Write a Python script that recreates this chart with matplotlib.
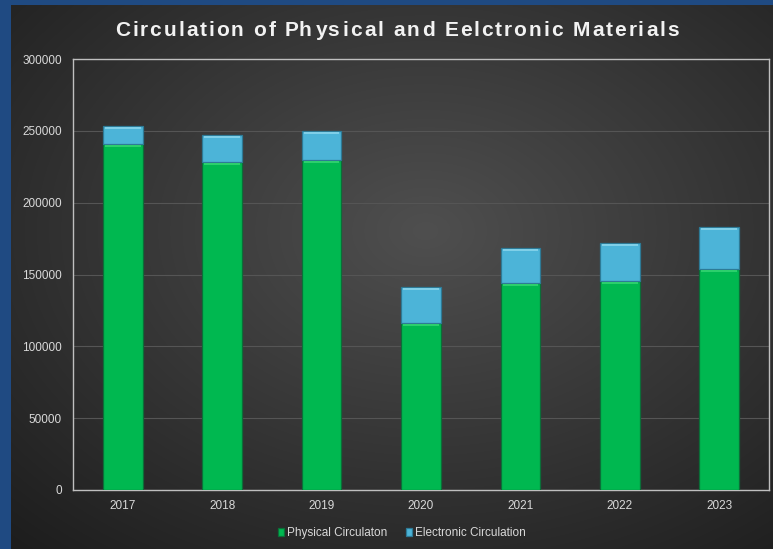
import numpy as np
import matplotlib
matplotlib.use("Agg")
import matplotlib.pyplot as plt
from matplotlib.textpath import TextToPath
from matplotlib.font_manager import FontProperties

years = ["2017", "2018", "2019", "2020", "2021", "2022", "2023"]
physical = [241000, 228500, 229700, 116200, 144200, 145600, 153800]
electronic = [12300, 18800, 20300, 25200, 24200, 26300, 29200]
yticks = [0, 50000, 100000, 150000, 200000, 250000, 300000]
title = 'Circulation of Physical and Eelctronic Materials'

plt.rcParams['font.family'] = ['Liberation Sans', 'DejaVu Sans']

W, H = 773, 549
fig = plt.figure(figsize=(W / 100, H / 100), dpi=100)
fig.patch.set_facecolor('#2b2b2b')

# background radial gradient
bg = fig.add_axes([0, 0, 1, 1], zorder=-10)
yy, xx = np.mgrid[0:H, 0:W]
cx, cy = W * 0.55, H * 0.42
r = np.sqrt(((xx - cx) / W) ** 2 + ((yy - cy) / H) ** 2)
v = 0.31 - 0.25 * r
img = np.dstack([v, v, v])
img = np.clip(img, 0, 1)
img[:, :11] = np.array([0x1f, 0x4a, 0x82]) / 255
img[:5, :] = np.array([0x1f, 0x4a, 0x82]) / 255
bg.imshow(img, aspect='auto', extent=[0, W, H, 0])
bg.set_axis_off()

ax = fig.add_axes([73 / W, 1 - 490 / H, 696 / W, 431 / H])
ax.set_facecolor('none')
x = np.arange(len(years))
bw = 0.4
phys = np.array(physical)
elec = np.array(electronic)
ax.bar(x, phys, bw, color='#00b850', edgecolor='#0b6e38', linewidth=0.9,
       label='Physical Circulaton', zorder=3)
ax.bar(x, elec, bw, bottom=phys, color='#4cb4d8', edgecolor='#2d7a96',
       linewidth=0.9, label='Electronic Circulation', zorder=3)
# bevel highlights along the top of each segment
hl = 1600
ax.bar(x, np.full(len(x), hl), bw * 0.9, bottom=phys - hl * 1.4, color='#2ccf6c',
       linewidth=0, zorder=4)
ax.bar(x, np.full(len(x), hl), bw * 0.9, bottom=phys + elec - hl * 1.4, color='#7fcfe8',
       linewidth=0, zorder=4)

ax.set_xlim(-0.5, len(years) - 0.5)
ax.set_ylim(0, 300000)
ax.set_yticks(yticks)
ax.set_yticklabels([str(t) for t in yticks])
ax.set_xticks(x)
ax.set_xticklabels(years)
ax.tick_params(axis='both', length=0, colors='#d9d9d9', labelsize=8.5)
ax.tick_params(axis='y', pad=8)
ax.tick_params(axis='x', pad=7)
ax.grid(axis='y', color='#555555', linewidth=0.8, zorder=0)
for s in ax.spines.values():
    s.set_color('#bfbfbf')
    s.set_linewidth(1.0)

# title with extra letter spacing (measured with float precision)
fs = 15
prop = FontProperties(family='Liberation Sans', weight='bold', size=fs)
t2p = TextToPath()
def width_of(s):
    w_dot = t2p.get_text_width_height_descent('.', prop, ismath=False)[0]
    w = t2p.get_text_width_height_descent(s + '.', prop, ismath=False)[0]
    return (w - w_dot) * 100 / 72.0
track = 2.0
offsets = [width_of(title[:i]) for i in range(len(title))]
total = width_of(title) + track * (len(title) - 1)
x0 = 397 - total / 2
for i, ch in enumerate(title):
    if ch == ' ':
        continue
    px = x0 + offsets[i] + track * i
    fig.text(px / W, 1 - 30 / H, ch, ha='left', va='center', fontproperties=prop,
             color='#f2f2f2')

leg = fig.legend(loc='center', bbox_to_anchor=(402 / W, 1 - 533 / H), ncol=2,
                 frameon=False, fontsize=8.5, handlelength=0.45, handleheight=0.65,
                 handletextpad=0.3, columnspacing=1.6)
for t in leg.get_texts():
    t.set_color('#d9d9d9')

fig.savefig('out.png', dpi=100, facecolor=fig.get_facecolor())
